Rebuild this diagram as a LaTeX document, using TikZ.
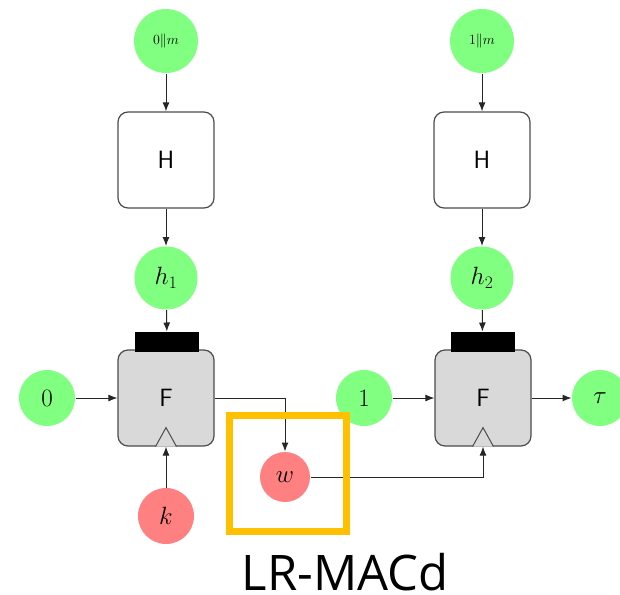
\RequirePackage{fix-cm}
\documentclass[tikz,border=0pt]{standalone}
\usepackage{amsmath}
\usepackage{fontspec}
\newfontfamily\captionfont{Open Sans}
\usepackage{xcolor}
\usepackage{tikz}
\usetikzlibrary{arrows.meta}

\definecolor{vargreen}{HTML}{80FF80}
\definecolor{keyred}{HTML}{FF8080}
\definecolor{boxgray}{HTML}{D9D9D9}
\definecolor{markorange}{HTML}{FFC000}

\begin{document}
\begin{tikzpicture}[x=1pt, y=-1pt, line width=1pt,
    var/.style={circle, fill=vargreen, inner sep=0pt, minimum size=56pt, font=\fontsize{25}{30}\selectfont},
    key/.style={var, fill=keyred},
    func/.style={rectangle, rounded corners=10pt, draw=black!70, line width=1.2pt, minimum width=96pt, minimum height=96pt, font=\fontsize{25}{30}\selectfont\sffamily},
    bar/.style={rectangle, fill=black, inner sep=0pt, minimum width=64pt, minimum height=20pt},
    flow/.style={-{Latex[length=9pt,width=7pt]}, draw=black!85}]
        \useasboundingbox (0,0) rectangle (620,594);

        % 左半部分
        \node[var, minimum size=64pt, font=\fontsize{14}{17}\selectfont] (m0) at (166,41) {$0\|m$};
        \node[func] (H1) at (166,160) {H};
        \node[var, minimum size=63pt] (h1) at (166,278) {$h_1$};
        \node[func, fill=boxgray] (F1) at (166,398) {F};
        \node[bar] (bar1) at (167,342) {};
        \node[var] (in0) at (47,398) {$0$};
        \node[key] (k) at (166,516) {$k$};
        \node[key, minimum size=50pt] (w) at (285,477) {$w$};

        % 右半部分
        \node[var, minimum size=64pt, font=\fontsize{14}{17}\selectfont] (m1) at (482,41) {$1\|m$};
        \node[func] (H2) at (482,160) {H};
        \node[var, minimum size=63pt] (h2) at (482,278) {$h_2$};
        \node[func, fill=boxgray] (F2) at (483,398) {F};
        \node[bar] (bar2) at (482.5,342) {};
        \node[var] (in1) at (364,398) {$1$};
        \node[var] (tau) at (600,398) {$\tau$};

        % 连线
        \draw[flow] (m0) -- (H1);
        \draw[flow] (H1) -- (h1);
        \draw[flow] (h1) -- (bar1);
        \draw[flow] (in0) -- (F1);
        \draw[flow] (k) -- (F1.south);
        \draw[flow] (F1.east) -| (w.north);
        \draw[flow] (m1) -- (H2);
        \draw[flow] (H2) -- (h2);
        \draw[flow] (h2) -- (bar2);
        \draw[flow] (in1) -- (F2);
        \draw[flow] (F2) -- (tau);
        \draw[flow] (w.east) -| (F2.south);

        % 时钟输入三角
        \draw[draw=black!70, fill=boxgray] ([xshift=-10.5pt]F1.south) -- ++(10.5,-19) -- ++(10.5,19);
        \draw[draw=black!70, fill=boxgray] ([xshift=-10.5pt]F2.south) -- ++(10.5,-19) -- ++(10.5,19);

        % 标记框与标题
        \draw[markorange, line width=7pt] (229.5,415.5) rectangle (346.5,531.5);
        \node[font=\captionfont\fontsize{49}{58}\selectfont, anchor=base, inner sep=0pt, text depth=0pt] (title) at (345,590) {LR-MACd};
    \end{tikzpicture}
\end{document}
